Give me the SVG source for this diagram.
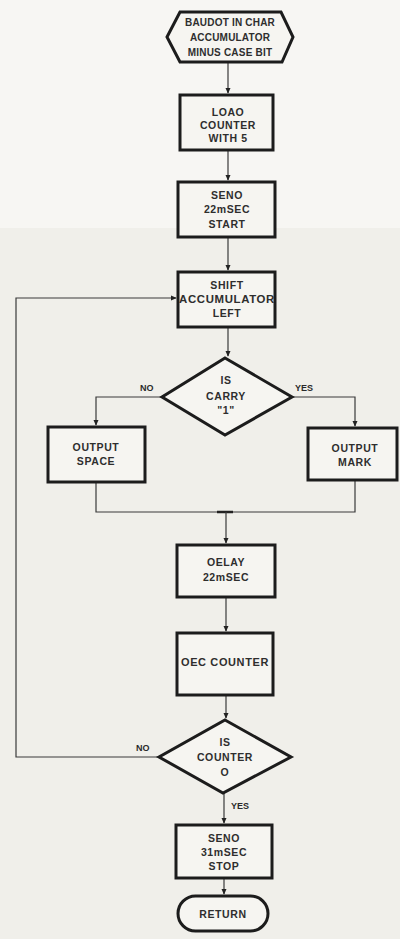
<svg xmlns="http://www.w3.org/2000/svg" width="400" height="939" viewBox="0 0 400 939">
<defs>
<style>
.bg{fill:#f0efea}
.n{fill:#f6f5f1;stroke:#1c1c1c;stroke-width:3}
.t{font-family:"Liberation Sans",Arial,sans-serif;font-size:10.5px;font-weight:bold;fill:#2e2e2e;text-anchor:middle;letter-spacing:0.6px}
.s{font-size:10px;letter-spacing:0.2px}
.e{fill:none;stroke:#3a3a3a;stroke-width:1.2}
.l{font-family:"Liberation Sans",Arial,sans-serif;font-size:9px;font-weight:bold;fill:#2a2a2a}
</style>
<marker id="a" viewBox="0 0 8 8" refX="7" refY="4" markerWidth="6" markerHeight="6" orient="auto" markerUnits="userSpaceOnUse">
<path d="M0,0.5 L8,4 L0,7.5 z" fill="#222"/>
</marker>
</defs>
<rect class="bg" x="0" y="0" width="400" height="939"/>
<rect x="0" y="0" width="400" height="228" fill="#f7f6f3"/>
<g id="connectors">
<path class="e" d="M228,62 V93" marker-end="url(#a)"/>
<path class="e" d="M228,150 V180" marker-end="url(#a)"/>
<path class="e" d="M228,237 V270" marker-end="url(#a)"/>
<path class="e" d="M228,327 V356" marker-end="url(#a)"/>
<path class="e" d="M162,397 H96 V425" marker-end="url(#a)"/>
<path class="e" d="M292,397 H355 V426" marker-end="url(#a)"/>
<path class="e" d="M96,482 V512 H355 V480"/>
<path d="M217,512 H233" stroke="#222" stroke-width="2.5"/>
<path class="e" d="M226,512 V543" marker-end="url(#a)"/>
<path class="e" d="M226,597 V631" marker-end="url(#a)"/>
<path class="e" d="M226,695 V718" marker-end="url(#a)"/>
<path class="e" d="M159,757 H16 V298 H176" marker-end="url(#a)"/>
<path class="e" d="M224,793 V823" marker-end="url(#a)"/>
<path class="e" d="M224,878 V894" marker-end="url(#a)"/>
<text class="l" x="140" y="391">NO</text>
<text class="l" x="295" y="391">YES</text>
<text class="l" x="136" y="751">NO</text>
<text class="l" x="231" y="809">YES</text>
</g>
<g id="start">
<path class="n" d="M167,37 L180,12 H281 L293,37 L282,62 H180 Z"/>
<text class="t s" x="230" y="26">BAUDOT IN CHAR</text>
<text class="t s" x="230" y="41">ACCUMULATOR</text>
<text class="t s" x="230" y="56">MINUS CASE BIT</text>
</g>
<g id="load">
<rect class="n" x="180" y="95" width="93" height="55"/>
<text class="t" x="228" y="116">LOAO</text>
<text class="t" x="228" y="129">COUNTER</text>
<text class="t" x="228" y="142">WITH 5</text>
</g>
<g id="send22">
<rect class="n" x="178" y="182" width="97" height="55"/>
<text class="t" x="227" y="199">SENO</text>
<text class="t" x="227" y="213">22mSEC</text>
<text class="t" x="227" y="228">START</text>
</g>
<g id="shift">
<rect class="n" x="178" y="272" width="97" height="55"/>
<text class="t" x="227" y="289">SHIFT</text>
<text class="t" x="227" y="303" textLength="96" lengthAdjust="spacingAndGlyphs">ACCUMULATOR</text>
<text class="t" x="227" y="317">LEFT</text>
</g>
<g id="carry">
<path class="n" d="M225,358 L292,397 L225,435 L162,397 Z"/>
<text class="t" x="226" y="384">IS</text>
<text class="t" x="226" y="400">CARRY</text>
<text class="t" x="226" y="414">"1"</text>
</g>
<g id="space">
<rect class="n" x="48" y="427" width="97" height="55"/>
<text class="t" x="96" y="451">OUTPUT</text>
<text class="t" x="96" y="465">SPACE</text>
</g>
<g id="mark">
<rect class="n" x="308" y="428" width="89" height="52"/>
<text class="t" x="355" y="452">OUTPUT</text>
<text class="t" x="355" y="466">MARK</text>
</g>
<g id="delay">
<rect class="n" x="177" y="545" width="98" height="52"/>
<text class="t" x="226" y="566">OELAY</text>
<text class="t" x="226" y="581">22mSEC</text>
</g>
<g id="dec">
<rect class="n" x="177" y="633" width="96" height="62"/>
<text class="t" x="225" y="666" textLength="88" lengthAdjust="spacingAndGlyphs">OEC COUNTER</text>
</g>
<g id="zero">
<path class="n" d="M225,720 L291,757 L223,793 L159,757 Z"/>
<text class="t" x="225" y="746">IS</text>
<text class="t" x="225" y="761">COUNTER</text>
<text class="t" x="225" y="776">O</text>
</g>
<g id="send31">
<rect class="n" x="176" y="825" width="96" height="53"/>
<text class="t" x="224" y="842">SENO</text>
<text class="t" x="224" y="856">31mSEC</text>
<text class="t" x="224" y="870">STOP</text>
</g>
<g id="return">
<rect class="n" x="178" y="896" width="90" height="35" rx="17.5"/>
<text class="t" x="223" y="918">RETURN</text>
</g>
</svg>
